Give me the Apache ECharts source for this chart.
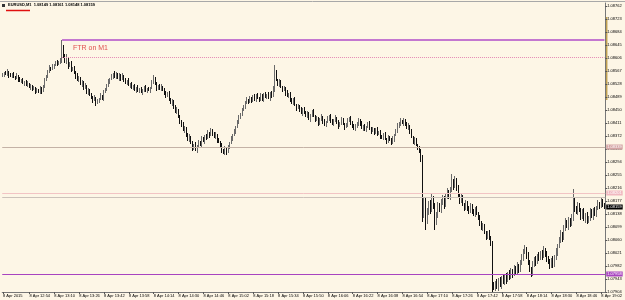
<!DOCTYPE html>
<html><head><meta charset="utf-8">
<script src="https://cdn.jsdelivr.net/npm/echarts@6/dist/echarts.min.js"></script>
<style>html,body{margin:0;padding:0;background:#FDF6E6;}#c{width:625px;height:300px;}</style>
</head><body><div id="c"></div>
<script>
const SYMBOL = 'EURUSD,M1';
const HEADER_QUOTES = ['1.08149', '1.08161', '1.08148', '1.08159'];
const DATE_LABEL = '8 Apr 2015';
const DAY_PREFIX = '8 Apr ';
const START_TIME = '12:37';
const BASE_PRICE = 1.07904;      // price of 0 points
const FIRST_OPEN_PTS = 648;
// close of each M1 bar, in points above BASE_PRICE
const closePts = [
651,657,654,660,651,648,654,645,642,648,639,633,636,627,630,621,624,615,618,609,
612,603,606,600,609,603,618,636,648,660,672,669,678,681,687,684,690,696,732,708,
690,702,678,684,666,672,660,648,636,642,624,630,612,618,600,606,591,585,576,582,
567,573,579,588,582,600,609,618,630,639,648,654,645,654,642,651,639,648,636,627,
633,621,624,612,618,606,612,603,609,600,606,612,603,609,606,612,630,642,624,612,
618,609,615,606,600,588,594,579,567,573,555,540,546,525,513,501,486,492,471,456,
465,447,432,441,426,438,450,441,459,453,468,462,477,471,486,474,465,471,456,450,
438,426,417,432,420,435,447,459,471,483,495,510,522,534,546,558,567,576,570,582,
573,585,579,591,582,576,588,579,594,585,591,582,597,588,606,660,636,624,630,615,
606,612,597,588,594,579,567,576,561,552,558,546,537,549,540,528,534,519,531,540,
528,516,522,507,516,525,513,501,510,519,528,516,504,513,522,510,498,507,516,504,
495,501,513,522,510,498,489,495,507,516,504,492,498,486,495,504,492,483,489,477,
486,474,480,468,462,471,459,453,465,456,447,459,471,483,495,504,513,507,516,504,
492,498,483,465,450,456,441,432,426,402,231,276,210,240,267,246,282,258,210,234,
261,246,267,282,261,288,300,285,306,330,318,336,312,291,276,285,264,252,267,255,
243,258,246,234,249,237,225,210,192,198,180,168,177,162,150,21,12,27,15,36,
21,42,30,48,36,54,45,63,54,72,60,78,69,87,102,120,129,111,90,66,
57,81,99,90,108,102,117,108,126,114,102,90,78,96,84,102,120,138,156,174,
162,192,210,198,216,204,222,276,252,240,258,246,228,240,219,231,213,222,240,228,
246,234,252,264,258,273,264,255];
// wick length above the body, points
const hiExtPts = [
6,3,6,9,3,6,3,6,3,9,3,6,3,6,3,6,9,3,6,3,
6,3,6,3,9,6,3,6,3,6,9,3,6,3,6,9,3,6,24,9,
6,12,3,6,9,3,6,3,9,6,3,6,3,9,3,6,3,6,3,9,
3,6,3,9,3,6,3,6,9,3,6,3,9,6,3,6,3,9,3,6,
3,9,3,6,3,6,3,9,3,6,3,6,9,3,6,3,6,9,3,6,
3,6,9,3,6,3,6,9,3,6,3,6,9,3,6,3,9,6,3,6,
9,3,6,3,9,3,6,3,9,6,3,6,9,3,6,3,6,9,3,6,
3,9,3,6,3,6,3,9,3,6,3,6,9,3,6,3,6,9,3,6,
3,6,9,3,6,3,9,6,3,6,3,9,3,6,12,21,6,3,9,6,
3,6,3,9,3,6,3,6,9,3,6,3,9,3,6,3,9,6,3,6,
9,3,6,3,6,9,3,6,3,9,3,6,3,6,9,3,6,3,9,6,
3,6,9,3,6,3,6,9,3,6,3,9,3,6,3,6,9,3,6,3,
6,9,3,6,3,6,9,3,6,3,6,9,3,6,12,6,9,3,6,3,
6,9,3,6,3,9,6,3,6,3,9,6,9,12,6,9,12,6,9,6,
9,6,12,9,6,9,12,6,9,24,9,12,6,9,6,9,6,3,9,6,
3,9,6,3,6,9,3,6,3,9,6,3,6,9,6,3,9,6,12,6,
9,6,12,6,9,6,12,9,6,9,6,12,6,9,12,9,12,6,9,6,
9,12,6,9,6,12,6,9,12,6,9,6,9,6,12,9,12,6,9,12,
6,9,12,6,9,6,12,33,9,6,12,9,6,9,12,6,9,6,12,9,
6,9,6,12,6,9,6,3];
// wick length below the body, points
const loExtPts = [
3,6,3,6,9,3,6,3,6,3,9,3,6,3,9,3,6,3,9,6,
3,9,6,3,6,9,3,6,3,6,3,6,3,9,3,6,3,6,9,6,
3,6,9,3,6,3,6,9,3,6,3,9,6,3,6,9,3,6,9,3,
9,3,6,3,6,9,3,6,3,6,3,9,3,6,3,9,6,3,6,3,
6,3,9,3,6,3,9,3,6,3,9,6,3,6,3,9,3,6,3,9,
6,3,6,3,9,6,3,6,3,9,6,3,6,3,9,6,3,9,6,3,
6,3,9,6,3,9,6,3,6,3,9,6,3,9,3,6,3,6,9,3,
6,9,3,6,9,3,6,3,6,3,9,3,6,3,6,3,9,3,6,3,
6,3,6,9,3,6,3,6,9,3,6,3,9,6,3,6,3,6,9,3,
6,3,9,3,6,9,3,6,3,9,3,6,3,9,6,3,6,3,9,6,
3,6,3,9,6,3,9,3,6,3,6,9,3,6,3,6,9,3,6,3,
9,3,6,3,9,6,3,6,3,9,6,3,9,3,6,3,6,9,3,6,
3,6,3,9,3,6,3,9,6,3,6,3,9,3,6,3,6,3,9,6,
3,6,9,3,6,9,3,6,9,12,21,9,24,6,9,12,6,9,24,9,
12,6,9,6,12,6,9,6,9,6,12,6,9,6,12,9,6,9,6,12,
9,6,12,6,9,6,9,12,6,9,6,12,9,6,12,21,6,9,6,12,
6,12,6,9,12,6,9,6,12,6,9,6,12,9,6,9,6,12,9,6,
12,9,6,12,6,9,6,12,6,9,12,6,9,6,12,9,6,12,6,9,
12,6,9,6,12,9,6,9,12,6,9,6,12,9,6,12,9,6,9,6,
12,6,9,6,9,6,9,6];
const xTickTimes = ['12:54','13:10','13:26','13:42','13:58','14:14','14:30','14:46','15:02','15:18','15:34','15:50',
  '16:06','16:22','16:38','16:54','17:10','17:26','17:42','17:58','18:14','18:30','18:46','19:02'];
const yTicks = [1.07904,1.07943,1.07982,1.08021,1.08060,1.08099,1.08138,1.08177,1.08216,1.08255,1.08294,1.08333,
  1.08372,1.08411,1.08450,1.08489,1.08528,1.08567,1.08606,1.08645,1.08684,1.08723,1.08762];
const Y_MAX = 1.08771;
const ftrTime = '13:15';
const ftrHigh = 1.08660;
const ftrLow = 1.08609;
const ftrText = 'FTR on M1';
const ftrTextTime = '13:22';
const ftrTextPrice = 1.08636;
const levelGray1 = 1.08339;
const levelPink = 1.08201;
const levelGray2 = 1.08189;
const levelPurple = 1.07958;
const rangeBarTop = 1.08729;     // olive marker on the price scale
const rangeBarBottom = 1.08480;

const FONT = 'Liberation Sans, Arial, sans-serif';
const toPrice = p => +(BASE_PRICE + p / 1e5).toFixed(5);
const [sh, sm] = START_TIME.split(':').map(Number);
const cats = closePts.map((_, i) => {
  const t = sh * 60 + sm + i;
  return String(Math.floor(t / 60)).padStart(2, '0') + ':' + String(t % 60).padStart(2, '0');
});
const ohlc = closePts.map((c, i) => {
  const o = i ? closePts[i - 1] : FIRST_OPEN_PTS;
  const hi = Math.max(o, c) + hiExtPts[i];
  const lo = Math.min(o, c) - loExtPts[i];
  return [toPrice(o), toPrice(c), toPrice(lo), toPrice(hi)];
});
const lastClose = toPrice(closePts[closePts.length - 1]);
const showX = (i, v) => i === 0 || xTickTimes.indexOf(v) >= 0;
const fmt5 = p => Number(p.value).toFixed(5);
const boxLabel = (bg, fg) => ({show: true, position: 'end', distance: 1, formatter: fmt5, fontSize: 4,
  fontFamily: FONT, color: fg, backgroundColor: bg, padding: [1, 1, 0, 1]});

const chart = echarts.init(document.getElementById('c'));
chart.setOption({
  animation: false,
  backgroundColor: '#FDF6E6',
  title: {text: SYMBOL + '  ' + HEADER_QUOTES.join(' '), left: 8, top: 3, padding: 0,
    textStyle: {fontSize: 4, fontWeight: 'bold', color: '#000', fontFamily: FONT}},
  grid: {left: 0, right: 19, top: 3, bottom: 8, show: false},
  xAxis: {type: 'category', data: cats, boundaryGap: true,
    axisLine: {lineStyle: {color: '#777', width: 1}},
    axisTick: {show: true, interval: showX, alignWithLabel: true, length: 2, lineStyle: {color: '#555'}},
    axisLabel: {interval: showX, align: 'left', margin: 2, fontSize: 4, color: '#000', fontFamily: FONT,
      formatter: (v, i) => i === 0 ? DATE_LABEL : DAY_PREFIX + v},
    splitLine: {show: false}},
  yAxis: {type: 'value', position: 'right', min: BASE_PRICE, max: Y_MAX, scale: true,
    axisLine: {show: true, lineStyle: {color: '#777', width: 1}},
    axisTick: {show: true, length: 2, customValues: yTicks, lineStyle: {color: '#555'}},
    axisLabel: {customValues: yTicks, margin: 2, fontSize: 4, color: '#000', fontFamily: FONT,
      formatter: v => Number(v).toFixed(5)},
    splitLine: {show: false}},
  series: [{
    type: 'candlestick', data: ohlc, barWidth: 1,
    itemStyle: {color: '#8c8c8c', color0: '#111', borderColor: '#6a6a6a', borderColor0: '#111', borderWidth: 1},
    markLine: {symbol: 'none', silent: true, animation: false, precision: 5,
      label: {show: false},
      data: [
        [{coord: [ftrTime, ftrHigh], lineStyle: {color: '#B04CC8', width: 1.5, type: 'solid'}},
         {coord: [cats[cats.length - 1], ftrHigh]}],
        [{coord: [ftrTime, ftrLow], lineStyle: {color: '#E48AB4', width: 1, type: 'dotted'}},
         {coord: [cats[cats.length - 1], ftrLow]}],
        {yAxis: levelGray1, lineStyle: {color: '#C4B2A6', width: 1, type: 'solid'}, label: boxLabel('#D4A4A4', '#fff')},
        {yAxis: levelPink, lineStyle: {color: '#F2C4C4', width: 1, type: 'solid'}, label: boxLabel('#F0B8C0', '#fff')},
        {yAxis: levelGray2, lineStyle: {color: '#CCC2BA', width: 1, type: 'solid'}},
        {yAxis: lastClose, lineStyle: {color: 'rgba(0,0,0,0)', width: 0}, label: boxLabel('#000', '#fff')},
        {yAxis: levelPurple, lineStyle: {color: '#A844C0', width: 1.2, type: 'solid'}, label: boxLabel('#A844C0', '#fff')}
      ]},
    markPoint: {symbol: 'circle', symbolSize: 0, silent: true,
      data: [{coord: [ftrTextTime, ftrTextPrice],
        label: {show: true, formatter: ftrText, position: 'right', distance: 0, color: '#E05050', fontSize: 7, fontFamily: FONT}}]}
  }],
  graphic: [
    {type: 'line', shape: {x1: 0, y1: 1.5, x2: 625, y2: 1.5}, style: {stroke: '#A8A8A8', lineWidth: 1}},
    {type: 'rect', shape: {x: 2, y: 4, width: 3, height: 3}, style: {fill: '#333'}},
    {type: 'line', shape: {x1: 6, y1: 10.5, x2: 30, y2: 10.5}, style: {stroke: '#E01010', lineWidth: 1.5}}
  ]
});
// olive range marker on the price scale, positioned from its price values
const yTopPx = chart.convertToPixel({yAxisIndex: 0}, rangeBarTop);
const yBotPx = chart.convertToPixel({yAxisIndex: 0}, rangeBarBottom);
const axisX = chart.convertToPixel({xAxisIndex: 0}, cats[cats.length - 1]);
chart.setOption({graphic: [
  {type: 'line', shape: {x1: 0, y1: 1.5, x2: 625, y2: 1.5}, style: {stroke: '#A8A8A8', lineWidth: 1}},
  {type: 'rect', shape: {x: 2, y: 4, width: 3, height: 3}, style: {fill: '#333'}},
  {type: 'line', shape: {x1: 6, y1: 10.5, x2: 30, y2: 10.5}, style: {stroke: '#E01010', lineWidth: 1.5}},
  {type: 'rect', shape: {x: axisX + 1.5, y: yTopPx, width: 1.5, height: yBotPx - yTopPx}, style: {fill: '#C0A050'}}
]});
</script></body></html>
